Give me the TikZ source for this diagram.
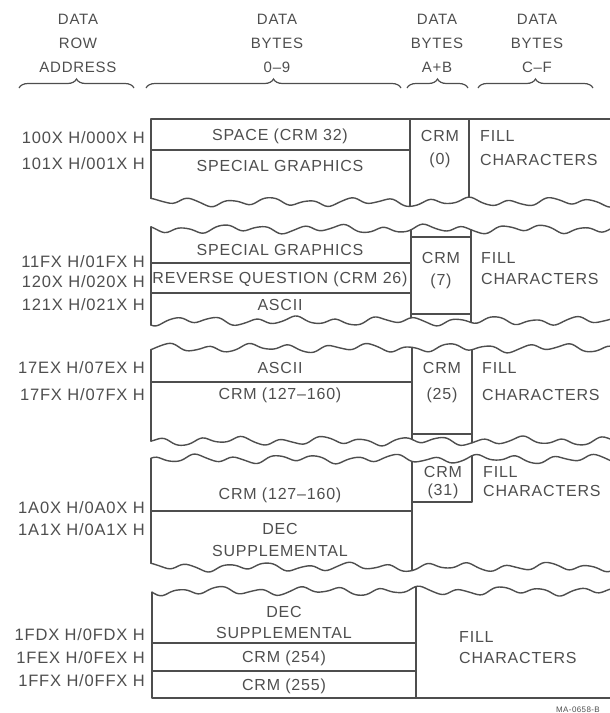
\documentclass[tikz,border=0pt]{standalone}
\usepackage{fontspec}
\setmainfont[LetterSpace=5]{Liberation Sans}
\usetikzlibrary{decorations.pathreplacing}
\definecolor{ink}{RGB}{78,78,78}
\begin{document}
\begin{tikzpicture}[x=1pt,y=-1pt,
  declare function={wv(\x,\p)=3.0*sin(9*\x+\p)+1.7*sin(3.7*\x+2*\p)+0.4*sin(19*\x+3*\p);},
  ln/.style={draw=ink, line width=1.4pt, line join=round, line cap=round},
  lbl/.style={font=\fontsize{16}{16}\selectfont, text=ink, inner sep=0pt},
  lft/.style={lbl, anchor=west},
  addr/.style={font=\fontsize{16.5}{16}\selectfont, text=ink, inner sep=0pt, anchor=east},
  hdr/.style={font=\fontsize{15}{18}\selectfont, text=ink, inner sep=0pt, align=center},
  brc/.style={draw=ink, line width=1.2pt, decorate, decoration={brace, amplitude=9pt}}
]
\useasboundingbox (0,0) rectangle (610,713);

% ---------- header ----------
\node[hdr] (h1) at (78,43) {DATA\\[6pt]ROW\\[6pt]ADDRESS};
\node[hdr] (h2) at (277,43) {DATA\\[6pt]BYTES\\[6pt]0--9};
\node[hdr] (h3) at (437,43) {DATA\\[6pt]BYTES\\[6pt]A+B};
\node[hdr] (h4) at (537,43) {DATA\\[6pt]BYTES\\[6pt]C--F};
\draw[brc] (19,88) -- (134,88);
\draw[brc] (146,88) -- (401,88);
\draw[brc] (407,88) -- (468,88);
\draw[brc] (478,88) -- (593,88);

% ---------- block 1 ----------
\draw[ln] (151,{202+wv(151,0)}) -- (151,119) -- (610,119);
\draw[ln] (151,150) -- (410,150);
\draw[ln] (410,119) -- (410,{202+wv(410,0)});
\draw[ln] (469,119) -- (469,{202+wv(469,0)});
\draw[ln] plot[domain=151:610, samples=170, smooth] (\x,{202+wv(\x,0)});
\node[lbl] (b1a) at (280,136) {SPACE (CRM 32)};
\node[lbl] (b1b) at (280,166) {SPECIAL GRAPHICS};
\node[lbl] (b1c) at (440,136) {CRM};
\node[lbl] (b1d) at (440,160) {(0)};
\node[lft] (b1e) at (480,136) {FILL};
\node[lft] (b1f) at (480,160) {CHARACTERS};
\node[addr] (a1) at (145,138) {100X H/000X H};
\node[addr] (a2) at (145,164) {101X H/001X H};

% ---------- block 2 ----------
\draw[ln] plot[domain=151:610, samples=170, smooth] (\x,{229+wv(\x,60)});
\draw[ln] plot[domain=151:610, samples=170, smooth] (\x,{321+wv(\x,130)});
\draw[ln] (151,{229+wv(151,60)}) -- (151,{321+wv(151,130)});
\draw[ln] (151,263) -- (411,263);
\draw[ln] (151,293) -- (411,293);
\draw[ln] (411,{229+wv(411,60)}) -- (411,{321+wv(411,130)});
\draw[ln] (471,{229+wv(471,60)}) -- (471,{321+wv(471,130)});
\draw[ln] (411,237) -- (471,237);
\draw[ln] (411,314) -- (471,314);
\node[lbl] (b2a) at (280,250) {SPECIAL GRAPHICS};
\node[lbl] (b2b) at (280,279) {REVERSE QUESTION (CRM 26)};
\node[lbl] (b2c) at (280,305) {ASCII};
\node[lbl] (b2d) at (441,258) {CRM};
\node[lbl] (b2e) at (441,281) {(7)};
\node[lft] (b2f) at (481,258) {FILL};
\node[lft] (b2g) at (481,279) {CHARACTERS};
\node[addr] (a3) at (145,262) {11FX H/01FX H};
\node[addr] (a4) at (145,282) {120X H/020X H};
\node[addr] (a5) at (145,305) {121X H/021X H};

% ---------- block 3 ----------
\draw[ln] plot[domain=151:610, samples=170, smooth] (\x,{348+wv(\x,190)});
\draw[ln] plot[domain=151:610, samples=170, smooth] (\x,{441+wv(\x,250)});
\draw[ln] (151,{348+wv(151,190)}) -- (151,{441+wv(151,250)});
\draw[ln] (151,382) -- (412,382);
\draw[ln] (412,{348+wv(412,190)}) -- (412,{441+wv(412,250)});
\draw[ln] (472,{348+wv(472,190)}) -- (472,{441+wv(472,250)});
\draw[ln] (412,434) -- (472,434);
\node[lbl] (b3a) at (280,368) {ASCII};
\node[lbl] (b3b) at (280,395) {CRM (127--160)};
\node[lbl] (b3c) at (442,368) {CRM};
\node[lbl] (b3d) at (442,395) {(25)};
\node[lft] (b3e) at (482,368) {FILL};
\node[lft] (b3f) at (482,395) {CHARACTERS};
\node[addr] (a6) at (145,368) {17EX H/07EX H};
\node[addr] (a7) at (145,395) {17FX H/07FX H};

% ---------- block 4 ----------
\draw[ln] plot[domain=151:610, samples=170, smooth] (\x,{459+wv(\x,310)});
\draw[ln] plot[domain=151:610, samples=170, smooth] (\x,{567+wv(\x,20)});
\draw[ln] (151,{459+wv(151,310)}) -- (151,{567+wv(151,20)});
\draw[ln] (151,511) -- (412,511);
\draw[ln] (412,{459+wv(412,310)}) -- (412,{567+wv(412,20)});
\draw[ln] (472,{459+wv(472,310)}) -- (472,502) -- (412,502);
\node[lbl] (b4a) at (280,495) {CRM (127--160)};
\node[lbl] (b4b) at (280,529) {DEC};
\node[lbl] (b4c) at (280,551) {SUPPLEMENTAL};
\node[lbl] (b4d) at (443,472) {CRM};
\node[lbl] (b4e) at (443,491) {(31)};
\node[lft] (b4f) at (483,472) {FILL};
\node[lft] (b4g) at (483,491) {CHARACTERS};
\node[addr] (a8) at (145,508) {1A0X H/0A0X H};
\node[addr] (a9) at (145,530) {1A1X H/0A1X H};

% ---------- block 5 ----------
\draw[ln] plot[domain=152:610, samples=170, smooth] (\x,{591+wv(\x,90)});
\draw[ln] (152,{591+wv(152,90)}) -- (152,698) -- (610,698);
\draw[ln] (416,{591+wv(416,90)}) -- (416,698);
\draw[ln] (152,643) -- (416,643);
\draw[ln] (152,671) -- (416,671);
\node[lbl] (b5a) at (284,612) {DEC};
\node[lbl] (b5b) at (284,633) {SUPPLEMENTAL};
\node[lbl] (b5c) at (284,658) {CRM (254)};
\node[lbl] (b5d) at (284,686) {CRM (255)};
\node[lft] (b5e) at (459,637) {FILL};
\node[lft] (b5f) at (459,658) {CHARACTERS};
\node[addr] (a10) at (145,635) {1FDX H/0FDX H};
\node[addr] (a11) at (145,658) {1FEX H/0FEX H};
\node[addr] (a12) at (145,681) {1FFX H/0FFX H};

\node[font=\fontsize{8}{8}\selectfont, text=ink, inner sep=0pt, anchor=base] (ma) at (578,712) {MA-0658-B};
\end{tikzpicture}
\end{document}
